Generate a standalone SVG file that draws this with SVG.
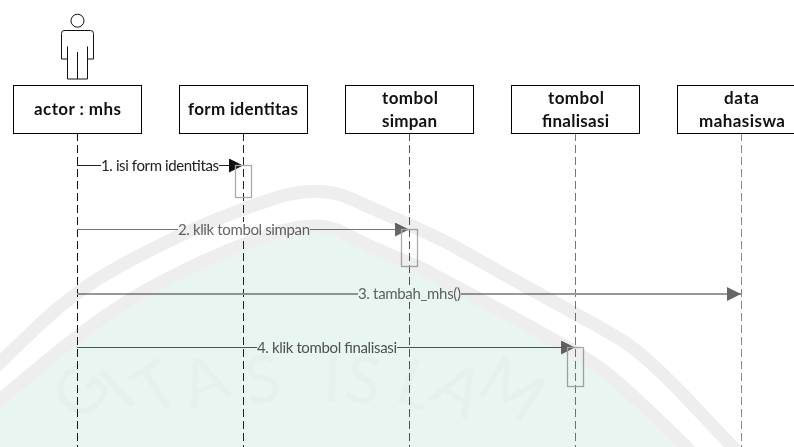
<svg xmlns="http://www.w3.org/2000/svg" width="794" height="447" viewBox="0 0 794 447">
<style>
.box{fill:#fff;stroke:#000;stroke-width:1}
.t{font-family:"Lato","Liberation Sans",sans-serif;font-weight:700;font-size:17px;fill:#111}
.m{font-family:"Lato","Liberation Sans",sans-serif;font-size:15px}
.life{fill:none;stroke-width:1;stroke-dasharray:8 4}
.act{fill:none;stroke:#aaa;stroke-width:1.3}
.wm{font-family:"Lato","Liberation Sans",sans-serif;font-weight:400;font-size:66px;fill:#e5f1ec}
.band{fill:none;stroke:#eeeeee;stroke-width:13}
.head{fill:#666}
</style>
<defs>
<marker id="ah" markerUnits="userSpaceOnUse" markerWidth="14" markerHeight="14" refX="14" refY="7" orient="auto"><path class="head" d="M0 0L14 7L0 14Z"/></marker>
<marker id="ahk" markerUnits="userSpaceOnUse" markerWidth="14" markerHeight="14" refX="14" refY="7" orient="auto"><path d="M0 0L14 7L0 14Z" fill="#111"/></marker>
</defs>
<rect width="794" height="447" fill="#fff"/>
<g id="connectors">
<path class="life" stroke="#111" d="M77.500 133V447"/>
<path class="life" stroke="#222" d="M243.500 133V447"/>
<path class="life" stroke="#555" d="M409.500 133V447"/>
<path class="life" stroke="#777" d="M575.500 133V447"/>
<path class="life" stroke="#888" d="M741.500 133V447"/>
<path d="M77 165.500H243" stroke="#222" fill="none" marker-end="url(#ahk)"/>
<path d="M77 229.500H409" stroke="#777" fill="none" marker-end="url(#ah)"/>
<path d="M77 294H741" stroke="#999" stroke-width="2" fill="none" marker-end="url(#ah)"/>
<path d="M77 347.500H575" stroke="#555" fill="none" marker-end="url(#ah)"/>
<rect class="act" x="235.500" y="165.500" width="16" height="32"/>
<rect class="act" x="401.500" y="229.500" width="16" height="37"/>
<rect class="act" x="567.500" y="347.500" width="16" height="39"/>
</g>
<g id="msg1"><rect x="101" y="158" width="118" height="15" fill="#fff"/><text class="m" x="101" y="170.500" fill="#222" textLength="118">1. isi form identitas</text></g>
<g id="msg2"><rect x="178" y="222" width="132" height="15" fill="#fff"/><text class="m" x="178" y="234.500" fill="#666" textLength="132">2. klik tombol simpan</text></g>
<g id="msg3"><rect x="358" y="287" width="103" height="15" fill="#fff"/><text class="m" x="358" y="299" fill="#666" textLength="103">3. tambah_mhs()</text></g>
<g id="msg4"><rect x="257" y="340" width="140" height="15" fill="#fff"/><text class="m" x="257" y="352.500" fill="#555" textLength="140">4. klik tombol finalisasi</text></g>
<g id="actor-figure" fill="#fff" stroke="#111">
<circle cx="77.500" cy="20.700" r="6.500"/>
<path d="M64 30.500H90.500Q93.500 30.500 93.500 33.500V59H87.500V79H67.500V59H61.500V33.500Q61.500 30.500 64 30.500Z"/>
<path d="M67.500 46.500V59M87.500 46.500V59M77.500 52V79" fill="none"/>
</g>
<g id="actor"><rect class="box" x="13.500" y="85.500" width="128" height="48"/><text class="t" x="34" y="115" textLength="87">actor : mhs</text></g>
<g id="form"><rect class="box" x="179.500" y="85.500" width="128" height="48"/><text class="t" x="188" y="115" textLength="110">form identitas</text></g>
<g id="simpan"><rect class="box" x="345.500" y="85.500" width="128" height="48"/><text class="t" x="382" y="104" textLength="56">tombol</text><text class="t" x="382" y="127" textLength="55">simpan</text></g>
<g id="finalisasi"><rect class="box" x="511.500" y="85.500" width="128" height="48"/><text class="t" x="548" y="104" textLength="56">tombol</text><text class="t" x="542" y="127" textLength="67">finalisasi</text></g>
<g id="data"><rect class="box" x="677.500" y="85.500" width="128" height="48"/><text class="t" x="724" y="104" textLength="35">data</text><text class="t" x="699" y="127" textLength="86">mahasiswa</text></g>
<g id="watermark" style="mix-blend-mode:multiply">
<path d="M-10 408L40 366.500Q80 333 111.500 311.500Q143 290 188 268.500Q233 247 275.500 233Q318 219 342.500 232.500Q367 246 417 266Q467 292 513.500 317.500Q560 343 580 355Q600 367 613.500 378.500Q627 390 657 418.500L700 460L-10 460Z" fill="#e9f5f0"/>
<path class="band" d="M-10 408L40 366.500Q80 333 111.500 311.500Q143 290 188 268.500Q233 247 275.500 233Q318 219 342.500 232.500Q367 246 417 266Q467 292 513.500 317.500Q560 343 580 355Q600 367 613.500 378.500Q627 390 657 418.500L700 460"/>
<path class="band" d="M-10 372L38.500 325.500Q77 289 120 266Q163 243 196.500 228Q230 213 274 198.500Q318 184 350.500 198.500Q383 213 413 226.500Q443 240 458 248.500Q473 257 511.500 278.500Q550 300 575 313.500Q600 327 621.500 340Q643 353 685 396.500L745 460"/>
<text class="wm" transform="translate(84 425) rotate(-52)">G</text>
<text class="wm" transform="translate(126 412) rotate(-42)">I</text>
<text class="wm" transform="translate(152 418) rotate(-33)">T</text>
<text class="wm" transform="translate(191 410) rotate(-20)">A</text>
<text class="wm" transform="translate(248 405) rotate(-8)">S</text>
<text class="wm" transform="translate(322 402) rotate(3)">I</text>
<text class="wm" transform="translate(342 400) rotate(9)">S</text>
<text class="wm" transform="translate(392 400) rotate(20)">L</text>
<text class="wm" transform="translate(428 398) rotate(30)">A</text>
<text class="wm" transform="translate(474 392) rotate(32)">M</text>
</g>
</svg>
